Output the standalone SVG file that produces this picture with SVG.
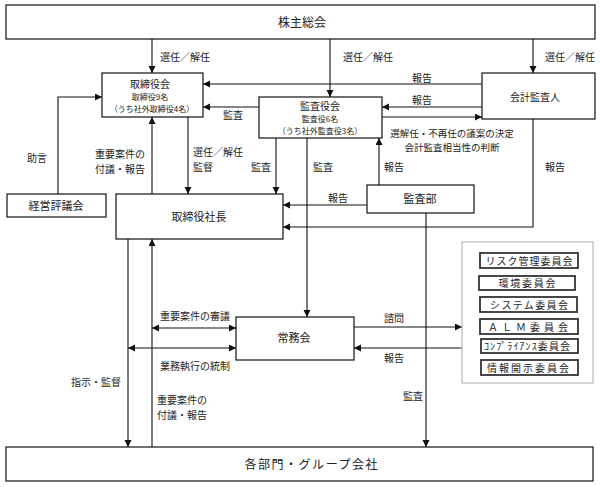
<svg xmlns="http://www.w3.org/2000/svg" width="600" height="487" viewBox="0 0 600 487">
<style>
text{font-family:"Noto Sans CJK JP","Noto Sans",sans-serif;fill:#222;text-anchor:middle}
.box{fill:#fff;stroke:#111;stroke-width:1.2}
.cbox{fill:#fff;stroke:#333;stroke-width:1.8}
.cont{fill:#fff;stroke:#aaa;stroke-width:1}
.t12{font-size:12px}.t11{font-size:11px}.t10{font-size:10px}.t9{font-size:8px}.lb{font-size:10px}
.ln{fill:none;stroke:#111;stroke-width:1.1}
.ar{marker-end:url(#ah)}
.da{marker-end:url(#ah);marker-start:url(#ah)}
.st{text-anchor:start}
</style>
<defs>
<marker id="ah" markerUnits="userSpaceOnUse" markerWidth="8" markerHeight="8" refX="7" refY="3.5" orient="auto-start-reverse">
<path d="M0,0 L7,3.5 L0,7 z" fill="#111"/>
</marker>
</defs>
<g id="connectors">
<path class="ln ar" d="M152,39 V73"/>
<path class="ln ar" d="M330,39 V97"/>
<path class="ln ar" d="M533,39 V73"/>
<path class="ln ar" d="M482,84 H203"/>
<path class="ln ar" d="M482,107 H382"/>
<path class="ln ar" d="M382,117 H482"/>
<path class="ln ar" d="M259,107 H203"/>
<path class="ln ar" d="M58,194 V97 H102"/>
<path class="ln ar" d="M152,194 V117"/>
<path class="ln ar" d="M188,117 V194"/>
<path class="ln ar" d="M276,138 V194"/>
<path class="ln ar" d="M307,138 V317"/>
<path class="ln ar" d="M379,185 V138"/>
<path class="ln ar" d="M367,205 H283"/>
<path class="ln ar" d="M533,119 V227 H283"/>
<path class="ln ar" d="M426,213 V447"/>
<path class="ln ar" d="M128,239 V447"/>
<path class="ln ar" d="M152,447 V239"/>
<path class="ln da" d="M152,328 H236"/>
<path class="ln da" d="M128,348 H236"/>
<path class="ln ar" d="M354,327 H462"/>
<path class="ln ar" d="M462,348 H354"/>
</g>
<g id="labels">
<text class="lb" x="185" y="61">選任／解任</text>
<text class="lb" x="368" y="61">選任／解任</text>
<text class="lb" x="570" y="61">選任／解任</text>
<text class="lb" x="422" y="82">報告</text>
<text class="lb" x="422" y="104">報告</text>
<text class="lb" x="233" y="119">監査</text>
<text class="lb" x="452" y="137" style="font-size:9.5px">選解任・不再任の議案の決定</text>
<text class="lb" x="452" y="151" style="font-size:9.5px">会計監査相当性の判断</text>
<text class="lb" x="37" y="162">助言</text>
<text class="lb" x="120" y="158">重要案件の</text>
<text class="lb" x="120" y="173">付議・報告</text>
<text class="lb st" x="193" y="156">選任／解任</text>
<text class="lb st" x="193" y="171">監督</text>
<text class="lb" x="261" y="171">監査</text>
<text class="lb" x="323" y="171">監査</text>
<text class="lb" x="394" y="171">報告</text>
<text class="lb" x="555" y="171">報告</text>
<text class="lb" x="338" y="202">報告</text>
<text class="lb" x="195" y="320">重要案件の審議</text>
<text class="lb" x="195" y="370">業務執行の統制</text>
<text class="lb" x="394" y="322">諮問</text>
<text class="lb" x="394" y="362">報告</text>
<text class="lb" x="96" y="386">指示・監督</text>
<text class="lb st" x="157" y="404">重要案件の</text>
<text class="lb st" x="157" y="419">付議・報告</text>
<text class="lb" x="413" y="400">監査</text>
</g>
<g id="n-kabunushi"><rect class="box" x="6" y="5" width="589" height="34"/><text class="t12" x="302" y="27">株主総会</text></g>
<g id="n-torishimariyakukai"><rect class="box" x="102" y="73" width="101" height="44"/>
<text class="t10" x="150" y="88">取締役会</text>
<text class="t9" x="150" y="100">取締役9名</text>
<text class="t9" x="152" y="112">（うち社外取締役4名）</text></g>
<g id="n-kansayakukai"><rect class="box" x="259" y="97" width="123" height="41"/>
<text class="t10" x="320" y="110">監査役会</text>
<text class="t9" x="320" y="122">監査役6名</text>
<text class="t9" x="320" y="134">（うち社外監査役3名）</text></g>
<g id="n-kaikei"><rect class="box" x="482" y="73" width="113" height="46"/><text class="t10" x="535" y="101">会計監査人</text></g>
<g id="n-keiei"><rect class="box" x="7" y="194" width="99" height="23"/><text class="t11" x="56" y="210">経営評議会</text></g>
<g id="n-shacho"><rect class="box" x="116" y="194" width="167" height="45"/><text class="t11" x="199" y="221">取締役社長</text></g>
<g id="n-kansabu"><rect class="box" x="367" y="185" width="107" height="28"/><text class="t11" x="420" y="203">監査部</text></g>
<g id="n-jomukai"><rect class="box" x="236" y="317" width="118" height="43"/><text class="t11" x="294" y="342">常務会</text></g>
<g id="n-iinkai">
<rect class="cont" x="462" y="242" width="131" height="141"/>
<rect class="cbox" x="480" y="253" width="98" height="15"/><text class="t10" x="529" y="264.5" textLength="87" lengthAdjust="spacing">リスク管理委員会</text>
<rect class="cbox" x="479" y="276" width="96" height="14"/><text class="t10" x="527" y="287" textLength="57" lengthAdjust="spacing">環境委員会</text>
<rect class="cbox" x="480" y="297" width="97" height="15"/><text class="t10" x="529" y="308.5" textLength="78" lengthAdjust="spacing">システム委員会</text>
<rect class="cbox" x="480" y="319" width="98" height="15"/><text class="t10" x="528" y="330.5" textLength="80" lengthAdjust="spacing">ＡＬＭ委員会</text>
<rect class="cbox" x="481" y="339" width="97" height="14"/><text class="t10" x="527" y="350" textLength="86" lengthAdjust="spacing">ｺﾝﾌﾟﾗｲｱﾝｽ委員会</text>
<rect class="cbox" x="481" y="360" width="97" height="15"/><text class="t10" x="528" y="371.5" textLength="82" lengthAdjust="spacing">情報開示委員会</text>
</g>
<g id="n-kakubumon"><rect class="box" x="6" y="447" width="587" height="34"/><text class="t12" x="311" y="469" textLength="133" lengthAdjust="spacing">各部門・グループ会社</text></g>
</svg>
